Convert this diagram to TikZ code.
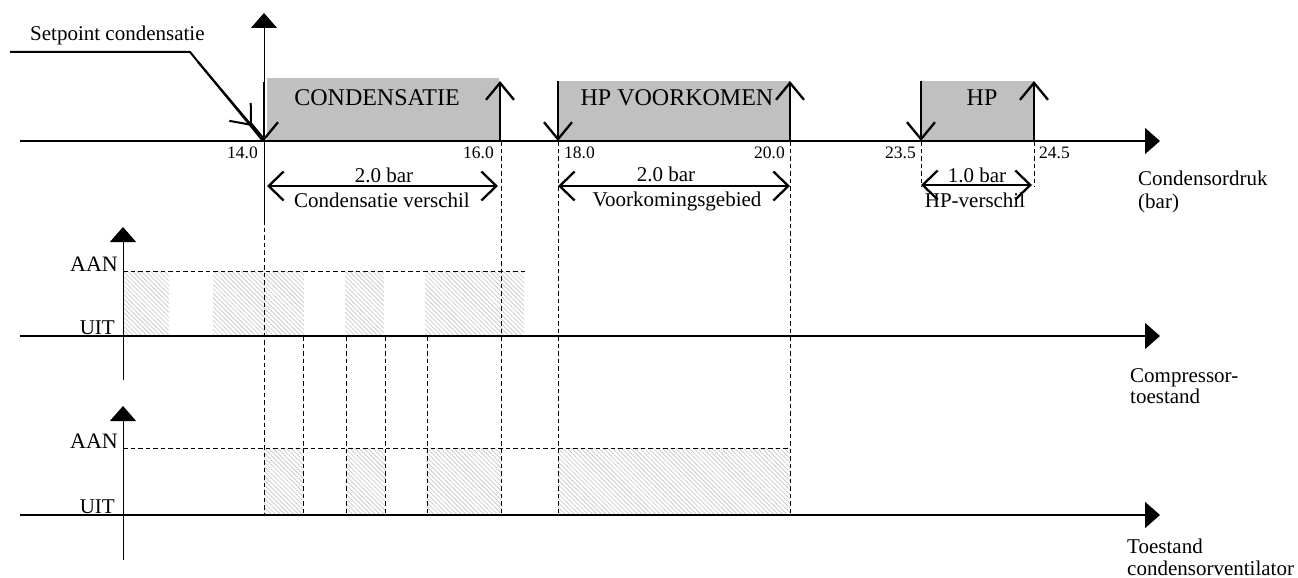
\documentclass[tikz,border=0pt]{standalone}
\usepackage{fontspec}
\setmainfont{Liberation Serif}
\usetikzlibrary{arrows.meta,patterns.meta}
\definecolor{boxgray}{RGB}{192,192,192}
\newcommand\myfs[1]{\fontsize{#1}{#1}\selectfont}
\tikzset{
  lbl/.style={inner sep=0pt, font=\myfs{21}},
  num/.style={inner sep=0pt, font=\myfs{17.5}},
  title/.style={inner sep=0pt, font=\myfs{24}},
  haxis/.style={line width=1.5pt, -{Triangle[length=15pt,width=26pt]}},
  vaxis/.style={line width=1pt, -{Triangle[length=15pt,width=26pt]}},
  bigarrow/.style={line width=2.3pt, -{Straight Barb[length=17pt,width=28pt]}},
  dimarrow/.style={line width=2.3pt, {Straight Barb[length=15pt,width=29pt]}-{Straight Barb[length=15pt,width=29pt]}},
  dashln/.style={line width=1pt, dash pattern=on 4.5pt off 3pt},
  zone/.style={fill=boxgray, draw=none},
  hatch/.style={draw=none, pattern={Lines[angle=-45,distance=3.2pt,line width=0.8pt]}, pattern color=gray!40},
}
\begin{document}
\begin{tikzpicture}[x=1pt,y=-1pt]
\useasboundingbox (0,0) rectangle (1298,578);
% zones
\fill[zone] (267,78) rectangle (499,141);
\fill[zone] (558,81) rectangle (790,141);
\fill[zone] (921,81) rectangle (1034,141);
% hatched compressor states
\fill[hatch] (123,271) rectangle (169,336);
\fill[hatch] (213,271) rectangle (304,336);
\fill[hatch] (345,271) rectangle (384,336);
\fill[hatch] (425,271) rectangle (524,336);
% hatched fan states
\fill[hatch] (264,448) rectangle (303,515);
\fill[hatch] (346,448) rectangle (385,515);
\fill[hatch] (426,448) rectangle (501,515);
\fill[hatch] (558,448) rectangle (790,515);
% dashed lines
\draw[dashln] (264,220) -- (264,515);
\draw[dashln] (501,141) -- (501,515);
\draw[dashln] (558,141) -- (558,515);
\draw[dashln] (790,141) -- (790,515);
\draw[dashln] (921,141) -- (921,187);
\draw[dashln] (1034,141) -- (1034,187);
\draw[dashln] (303,336) -- (303,515);
\draw[dashln] (346,336) -- (346,515);
\draw[dashln] (385,336) -- (385,515);
\draw[dashln] (427,336) -- (427,515);
\draw[dashln] (123,271) -- (527,271);
\draw[dashln] (123,448) -- (790,448);
% axes
\coordinate (o1) at (20,141);
\coordinate (e1) at (1160,141);
\draw[haxis] (o1) -- (e1);
\coordinate (v1b) at (264,220);
\coordinate (v1t) at (264,13);
\draw[vaxis] (v1b) -- (v1t);
\coordinate (o2) at (20,336);
\coordinate (e2) at (1160,336);
\draw[haxis] (o2) -- (e2);
\coordinate (v2b) at (123,380);
\coordinate (v2t) at (123,227);
\draw[vaxis] (v2b) -- (v2t);
\coordinate (o3) at (20,515);
\coordinate (e3) at (1160,515);
\draw[haxis,line width=1.8pt] (o3) -- (e3);
\coordinate (v3b) at (123,560);
\coordinate (v3t) at (123,406);
\draw[vaxis] (v3b) -- (v3t);
% switching arrows
\draw[bigarrow] (264,82) -- (264,141);
\draw[bigarrow] (500,141) -- (500,81);
\draw[bigarrow] (558,81) -- (558,141);
\draw[bigarrow] (790,141) -- (790,81);
\draw[bigarrow] (921,81) -- (921,141);
\draw[bigarrow] (1034,141) -- (1034,81);
% dimension arrows
\draw[dimarrow] (267,186) -- (498,186);
\draw[dimarrow] (558,186) -- (790,186);
\draw[dimarrow] (921,185) -- (1032,185);
% setpoint leader
\draw[line width=2pt] (10,52) -- (190,52) -- (263,141);
\draw[line width=2pt, -{Straight Barb[length=17pt,width=28pt]}] (198,62) -- (252,126);
% texts
\node[lbl, anchor=base west] (sp) at (30,41) {Setpoint condensatie};
\node[title, anchor=base] (t1) at (377,105) {CONDENSATIE};
\node[title, anchor=base] (t2) at (677,105) {HP VOORKOMEN};
\node[title, anchor=base] (t3) at (982,105) {HP};
\node[num, anchor=base east] (n1) at (258,158) {14.0};
\node[num, anchor=base east] (n2) at (494,158) {16.0};
\node[num, anchor=base west] (n3) at (564,158) {18.0};
\node[num, anchor=base east] (n4) at (785,158) {20.0};
\node[num, anchor=base east] (n5) at (916,158) {23.5};
\node[num, anchor=base west] (n6) at (1039,158) {24.5};
\node[lbl, anchor=base] (d1) at (384,182) {2.0 bar};
\node[lbl, anchor=base] (d1b) at (382,207) {Condensatie verschil};
\node[lbl, anchor=base] (d2) at (666,181) {2.0 bar};
\node[lbl, anchor=base] (d2b) at (677,206) {Voorkomingsgebied};
\node[lbl, anchor=base] (d3) at (977,182) {1.0 bar};
\node[lbl, anchor=base] (d3b) at (975,207) {HP-verschil};
\node[lbl, anchor=base west] (x1) at (1138,185) {Condensordruk};
\node[lbl, anchor=base west] (x1b) at (1138,208) {(bar)};
\node[lbl, anchor=base east, font=\myfs{22}] (a1) at (118,271) {AAN};
\node[lbl, anchor=base east] (u1) at (115,334) {UIT};
\node[lbl, anchor=base west] (x2) at (1130,382) {Compressor-};
\node[lbl, anchor=base west] (x2b) at (1130,403) {toestand};
\node[lbl, anchor=base east, font=\myfs{22}] (a2) at (118,448) {AAN};
\node[lbl, anchor=base east] (u2) at (115,513) {UIT};
\node[lbl, anchor=base west] (x3) at (1127,553) {Toestand};
\node[lbl, anchor=base west] (x3b) at (1127,575) {condensorventilator};
\end{tikzpicture}
\end{document}
